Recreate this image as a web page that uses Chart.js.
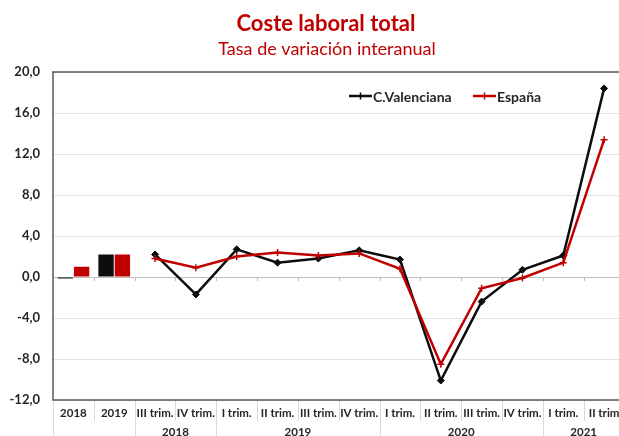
<!DOCTYPE html>
<html>
<head>
<meta charset="utf-8">
<script src="https://cdn.jsdelivr.net/npm/chart.js@4/dist/chart.umd.min.js"></script>
<style>
  html, body { margin: 0; padding: 0; background: #fff; overflow: hidden; }
  #wrap { width: 630px; height: 436px; }
</style>
</head>
<body>
<div id="wrap"><canvas id="myChart" width="630" height="436"></canvas></div>
<script>
var categories = ['2018', '2019', 'III trim.', 'IV trim.', 'I trim.', 'II trim.', 'III trim.', 'IV trim.',
                  'I trim.', 'II trim.', 'III trim.', 'IV trim.', 'I trim.', 'II trim'];
var yearLabels = ['', '', '2018', '2018', '2019', '2019', '2019', '2019',
                  '2020', '2020', '2020', '2020', '2021', '2021'];
var cvAnnual = [-0.1, 2.2, null, null, null, null, null, null, null, null, null, null, null, null];
var espAnnual = [1.0, 2.2, null, null, null, null, null, null, null, null, null, null, null, null];
var cvQuarter = [null, null, 2.2, -1.7, 2.7, 1.4, 1.8, 2.6, 1.7, -10.1, -2.4, 0.7, 2.1, 18.4];
var espQuarter = [null, null, 1.8, 0.9, 2.0, 2.4, 2.1, 2.3, 0.8, -8.5, -1.1, -0.1, 1.4, 13.4];
var seriesNames = ['C.Valenciana', 'España'];
var titleText = 'Coste laboral total';
var subtitleText = 'Tasa de variación interanual';

var BLACK = '#0d0d0d';
var RED = '#c00000';
var FONT = 'Lato, "Liberation Sans", sans-serif';

var decor = {
  id: 'decor',
  afterDraw: function(chart) {
    var ctx = chart.ctx;
    var a = chart.chartArea;
    var x = chart.scales.x, y = chart.scales.y;
    var half = (x.getPixelForValue(1) - x.getPixelForValue(0)) / 2;
    var y0 = y.getPixelForValue(0);
    ctx.save();

    // titles
    ctx.fillStyle = RED;
    ctx.textAlign = 'center';
    ctx.textBaseline = 'alphabetic';
    ctx.font = 'bold 22px ' + FONT;
    ctx.fillText(titleText, 326, 31);
    ctx.font = '18px ' + FONT;
    ctx.fillText(subtitleText, 327, 55);

    // small ticks on zero line
    ctx.strokeStyle = '#bfbfbf';
    ctx.lineWidth = 1;
    for (var i = 1; i < categories.length; i++) {
      var bx = Math.round(x.getPixelForValue(i) - half) + 0.5;
      ctx.beginPath(); ctx.moveTo(bx, y0); ctx.lineTo(bx, y0 + 4); ctx.stroke();
    }

    // label separators
    ctx.strokeStyle = '#d9d9d9';
    for (var j = 0; j <= categories.length; j++) {
      var sx = Math.round(x.getPixelForValue(j) - half) + 0.5;
      var long = j === 0 || j === categories.length || yearLabels[j] !== yearLabels[j - 1];
      ctx.beginPath(); ctx.moveTo(sx, a.bottom); ctx.lineTo(sx, long ? 436 : 421); ctx.stroke();
    }

    // year row
    ctx.fillStyle = '#262626';
    ctx.font = 'bold 11.5px ' + FONT;
    ctx.textBaseline = 'middle';
    var start = 0;
    for (var k = 1; k <= yearLabels.length; k++) {
      if (k === yearLabels.length || yearLabels[k] !== yearLabels[start]) {
        if (yearLabels[start]) {
          var cx = (x.getPixelForValue(start) + x.getPixelForValue(k - 1)) / 2;
          ctx.fillText(yearLabels[start], cx, 432);
        }
        start = k;
      }
    }

    // plot frame
    ctx.strokeStyle = '#595959';
    ctx.lineWidth = 1.5;
    ctx.strokeRect(a.left, a.top, a.right - a.left, a.bottom - a.top);

    // legend
    var items = [[seriesNames[0], BLACK, 349], [seriesNames[1], RED, 473]];
    ctx.font = 'bold 14px ' + FONT;
    ctx.textAlign = 'left';
    items.forEach(function(it) {
      var ly = 96;
      ctx.strokeStyle = it[1];
      ctx.lineWidth = 2.5;
      ctx.beginPath(); ctx.moveTo(it[2], ly); ctx.lineTo(it[2] + 23, ly); ctx.stroke();
      ctx.lineWidth = 1.5;
      ctx.beginPath(); ctx.moveTo(it[2] + 11.5, ly - 3.5); ctx.lineTo(it[2] + 11.5, ly + 3.5); ctx.stroke();
      ctx.fillStyle = '#262626';
      ctx.fillText(it[0], it[2] + 24, ly + 1);
    });
    ctx.restore();
  }
};

var ctx = document.getElementById('myChart');
var myChart = new Chart(ctx, {
  type: 'bar',
  data: {
    labels: categories,
    datasets: [{
      type: 'line',
      label: seriesNames[0],
      data: cvQuarter,
      borderColor: BLACK,
      backgroundColor: BLACK,
      borderWidth: 2.5,
      pointStyle: 'rectRot',
      pointRadius: 3.5,
      pointBorderWidth: 1,
      tension: 0,
      order: 1
    }, {
      type: 'line',
      label: seriesNames[1],
      data: espQuarter,
      borderColor: RED,
      backgroundColor: RED,
      borderWidth: 2.5,
      pointStyle: 'cross',
      pointRadius: 3.5,
      pointBorderWidth: 1.5,
      tension: 0,
      order: 0
    }, {
      label: seriesNames[0],
      data: cvAnnual,
      backgroundColor: BLACK,
      categoryPercentage: 0.8,
      barPercentage: 0.94,
      minBarLength: 1.5,
      order: 2
    }, {
      label: seriesNames[1],
      data: espAnnual,
      backgroundColor: RED,
      categoryPercentage: 0.8,
      barPercentage: 0.94,
      order: 2
    }]
  },
  options: {
    responsive: false,
    animation: false,
    layout: { padding: { top: 72, right: 3, left: 0, bottom: 0 } },
    plugins: {
      legend: { display: false },
      title: { display: false },
      tooltip: { enabled: false }
    },
    scales: {
      x: {
        offset: true,
        grid: { display: false, drawTicks: false },
        border: { display: false },
        afterFit: function(s) { s.height = 36; },
        ticks: {
          autoSkip: false,
          maxRotation: 0,
          padding: 6,
          color: '#262626',
          font: { family: FONT, size: 11.5, weight: 'bold' }
        }
      },
      y: {
        min: -12,
        max: 20,
        afterFit: function(s) { s.width = 53; },
        border: { display: false },
        grid: {
          drawTicks: false,
          lineWidth: 1,
          color: function(c) { return c.tick.value === 0 ? '#bfbfbf' : '#e3e3e3'; }
        },
        ticks: {
          stepSize: 4,
          padding: 13,
          color: '#262626',
          font: { family: FONT, size: 13, weight: 'bold' },
          callback: function(v) { return v.toFixed(1).replace('.', ','); }
        }
      }
    }
  },
  plugins: [decor]
});
</script>
</body>
</html>
